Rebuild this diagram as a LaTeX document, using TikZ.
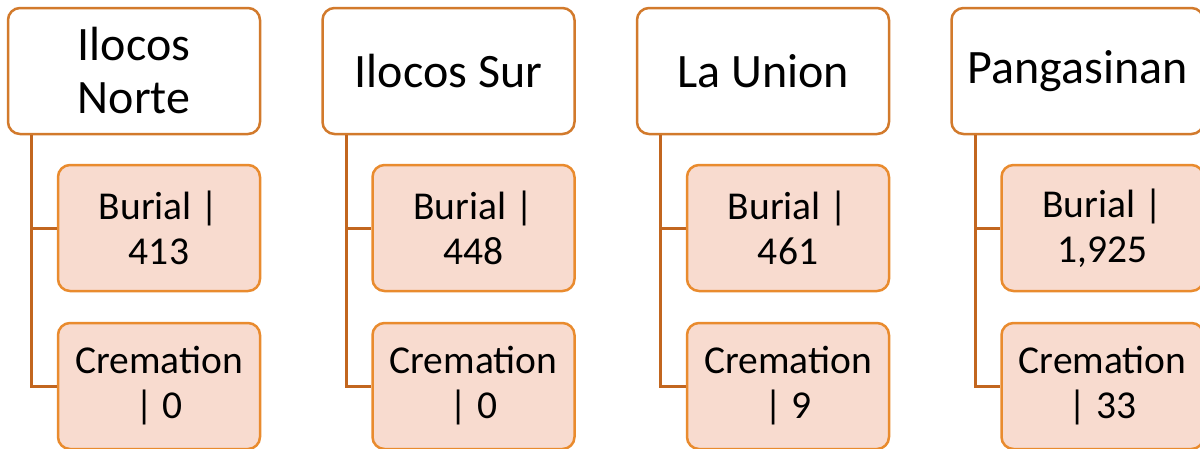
\documentclass[tikz,border=0pt]{standalone}
\usepackage{fontspec}
\setmainfont{Carlito}
\definecolor{topline}{HTML}{D27A2C}
\definecolor{connline}{HTML}{C2661F}
\definecolor{childline}{HTML}{E98B2E}
\definecolor{childfill}{HTML}{F8DBCF}
\tikzset{
  topbox/.style={draw=topline, line width=2.5pt, fill=white, rounded corners=12pt,
    minimum width=252pt, minimum height=126pt, inner sep=0pt, align=center,
    font=\fontsize{48}{53}\selectfont},
  childbox/.style={draw=childline, line width=2.5pt, fill=childfill, rounded corners=12pt,
    minimum width=202pt, minimum height=126pt, inner sep=0pt, align=center,
    font=\fontsize{39.5}{45}\selectfont},
  conn/.style={draw=connline, line width=3pt}
}
\begin{document}
\begin{tikzpicture}[x=1pt,y=1pt]
\useasboundingbox (0,0) rectangle (1200,-448);
\foreach \i/\name/\bur/\cre in {0/{Ilocos\\Norte}/413/0, 1/{Ilocos Sur}/448/0, 2/{La Union}/461/9, 3/{Pangasinan}/{1,925}/33} {
  \pgfmathsetmacro{\xo}{8+314.5*\i}
  \coordinate (o\i) at (\xo,0);
  \node[topbox] (t\i) at ([xshift=126pt,yshift=-71pt]o\i) {\name};
  \node[childbox] (b\i) at ([xshift=151pt,yshift=-228pt]o\i) {Burial |\\\bur};
  \node[childbox] (c\i) at ([xshift=151pt,yshift=-386pt]o\i) {Cremation\\| \cre};
  \draw[conn] (t\i.south west) ++(25pt,0) |- (b\i.west);
  \draw[conn] (t\i.south west) ++(25pt,0) |- (c\i.west);
}
\end{tikzpicture}
\end{document}
